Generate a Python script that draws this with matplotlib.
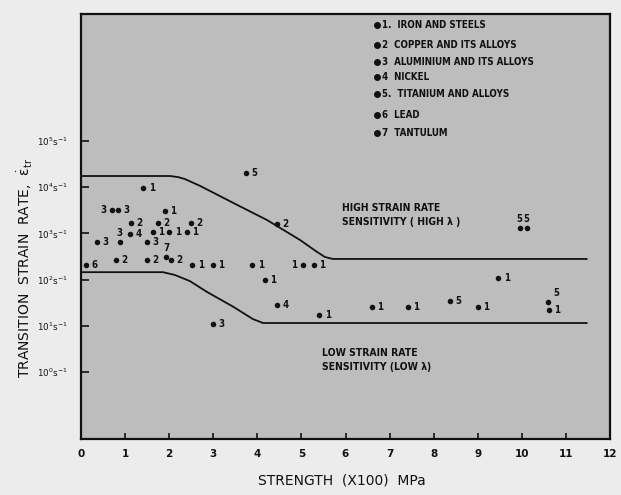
import matplotlib
matplotlib.use("Agg")
import matplotlib.pyplot as plt
from matplotlib.ticker import FixedLocator, FixedFormatter, NullLocator

# ---- data -------------------------------------------------------------
# strength (x100 MPa) and transition strain rate (1/s) of each material point
strength = [1.41, 3.74, 0.70, 0.84, 1.90, 1.13, 1.75, 2.49, 4.44, 1.11,
            1.63, 2.00, 2.40, 0.36, 0.88, 1.50, 1.93, 2.04, 0.79, 1.50,
            0.11, 2.52, 2.99, 3.88, 5.03, 5.28, 4.17, 4.44, 2.99, 5.40,
            9.95, 10.11, 9.46, 6.60, 7.41, 8.37, 9.00, 10.59, 10.61]
strain_rate = [9.5e3, 2.0e4, 3.2e3, 3.2e3, 3.0e3, 1.7e3, 1.7e3, 1.7e3, 1.6e3, 9.7e2,
               1.07e3, 1.07e3, 1.07e3, 6.5e2, 6.5e2, 6.5e2, 3.1e2, 2.6e2, 2.6e2, 2.7e2,
               2.1e2, 2.1e2, 2.1e2, 2.1e2, 2.1e2, 2.1e2, 1.0e2, 28, 11, 17,
               1.3e3, 1.3e3, 1.1e2, 26, 26, 35, 26, 33, 22]
material = ["1", "5", "3", "3", "1", "2", "2", "2", "2", "4",
            "1", "1", "1", "3", "3", "3", "7", "2", "2", "2",
            "6", "1", "1", "1", "1", "1", "1", "4", "3", "1",
            "5", "5", "1", "1", "1", "5", "1", "5", "1"]

# upper and lower boundaries of the transition band
upper_strength = [0.0, 2.02, 2.20, 2.36, 2.70, 3.45, 4.22, 4.97, 5.35, 5.53, 5.71, 11.47]
upper_rate = [1.75e4, 1.75e4, 1.66e4, 1.5e4, 1.07e4, 4.6e3, 1.95e3, 7.2e2, 4.0e2, 3.1e2, 2.8e2, 2.8e2]
lower_strength = [0.0, 1.86, 2.13, 2.47, 2.86, 3.45, 3.90, 4.13, 11.47]
lower_rate = [1.45e2, 1.45e2, 1.26e2, 93, 54, 26, 14, 11.5, 11.5]

legend_entries = ["1.  IRON AND STEELS", "2  COPPER AND ITS ALLOYS",
                  "3  ALUMINIUM AND ITS ALLOYS", "4  NICKEL",
                  "5.  TITANIUM AND ALLOYS", "6  LEAD", "7  TANTULUM"]

x_ticks = list(range(0, 13))
y_tick_exponents = [0, 1, 2, 3, 4, 5]

# ---- layout -----------------------------------------------------------
# where each point's number sits relative to its dot
label_side = ["r"] * len(strength)
for i in (2, 24):
    label_side[i] = "l"
for i in (14, 16, 30, 31):
    label_side[i] = "u"
label_side[37] = "ur"
side_offset = {"r": ((4, 0), "left", "center"), "l": ((-4, 0), "right", "center"),
               "u": ((0, 3), "center", "bottom"), "ur": ((4, 3), "left", "bottom")}

plt.rcParams["mathtext.fontset"] = "dejavusans"
plt.rcParams["mathtext.default"] = "regular"
FONT = dict(family="DejaVu Sans", fontstretch="condensed", fontweight="bold")
INK = "#111111"

W, H = 621, 495
fig = plt.figure(figsize=(W / 100, H / 100), dpi=100, facecolor="#ececec")
L, R, T, B = 81, 610, 14, 439
ax = fig.add_axes([L / W, 1 - B / H, (R - L) / W, (B - T) / H])
ax.set_facecolor("#bdbdbd")
ax.set_yscale("log")
ax.set_xlim(0, 12)
ax.set_ylim(10 ** -1.45, 10 ** 7.75)

for s in ax.spines.values():
    s.set_linewidth(1.6)
    s.set_color(INK)

ax.xaxis.set_major_locator(FixedLocator(x_ticks))
ax.xaxis.set_major_formatter(FixedFormatter([str(t) for t in x_ticks]))
ax.yaxis.set_major_locator(FixedLocator([10.0 ** e for e in y_tick_exponents]))
ax.yaxis.set_major_formatter(FixedFormatter(
    [r"$10^{%d}s^{-1}$" % e for e in y_tick_exponents]))
ax.yaxis.set_minor_locator(NullLocator())
ax.tick_params(axis="x", direction="in", length=4, width=1.2, pad=7,
               labelsize=7.5, colors=INK)
ax.tick_params(axis="y", direction="in", length=6, width=1.2, pad=10,
               labelsize=6.3, colors=INK)
for lab in ax.get_xticklabels():
    lab.set_fontweight("bold")

# transition band boundaries
ax.plot(upper_strength, upper_rate, color=INK, lw=1.3)
ax.plot(lower_strength, lower_rate, color=INK, lw=1.3)

# material points and their numbers
ax.scatter(strength, strain_rate, s=16, color=INK, zorder=3, linewidths=0)
for x, y, m, side in zip(strength, strain_rate, material, label_side):
    off, ha, va = side_offset[side]
    ax.annotate(m, (x, y), xytext=off, textcoords="offset points",
                ha=ha, va=va, fontsize=7, color=INK, **FONT)

# region notes
ax.text((342 - L) / (R - L) * 12, 10 ** ((372 - 215) / 46.2),
        "HIGH STRAIN RATE\nSENSITIVITY ( HIGH λ )", fontsize=7.5,
        color=INK, va="center", ha="left", linespacing=1.5, **FONT)
ax.text((322 - L) / (R - L) * 12, 10 ** ((372 - 360) / 46.2),
        "LOW STRAIN RATE\nSENSITIVITY (LOW λ)", fontsize=7.5,
        color=INK, va="center", ha="left", linespacing=1.5, **FONT)

# material key
key_rows = [25, 45, 62, 77, 94, 115, 133]
for row, entry in zip(key_rows, legend_entries):
    yf = (B - row) / (B - T)
    ax.plot([(377 - L) / (R - L)], [yf], "o", ms=4, color=INK,
            transform=ax.transAxes, clip_on=False)
    ax.text((382 - L) / (R - L), yf, entry, transform=ax.transAxes,
            fontsize=7, color=INK, va="center", ha="left", **FONT)

# axis titles
fig.text(342 / W, 1 - 480 / H, "STRENGTH  (X100)  MPa", ha="center", va="center",
         fontsize=10, color=INK, family="DejaVu Sans")
fig.text(25 / W, 1 - 268 / H, r"TRANSITION  STRAIN  RATE,  $\dot{\varepsilon}_{tr}$",
         ha="center", va="center", rotation=90, fontsize=10, color=INK,
         family="DejaVu Sans")

fig.savefig("out.png", dpi=100, facecolor=fig.get_facecolor())
